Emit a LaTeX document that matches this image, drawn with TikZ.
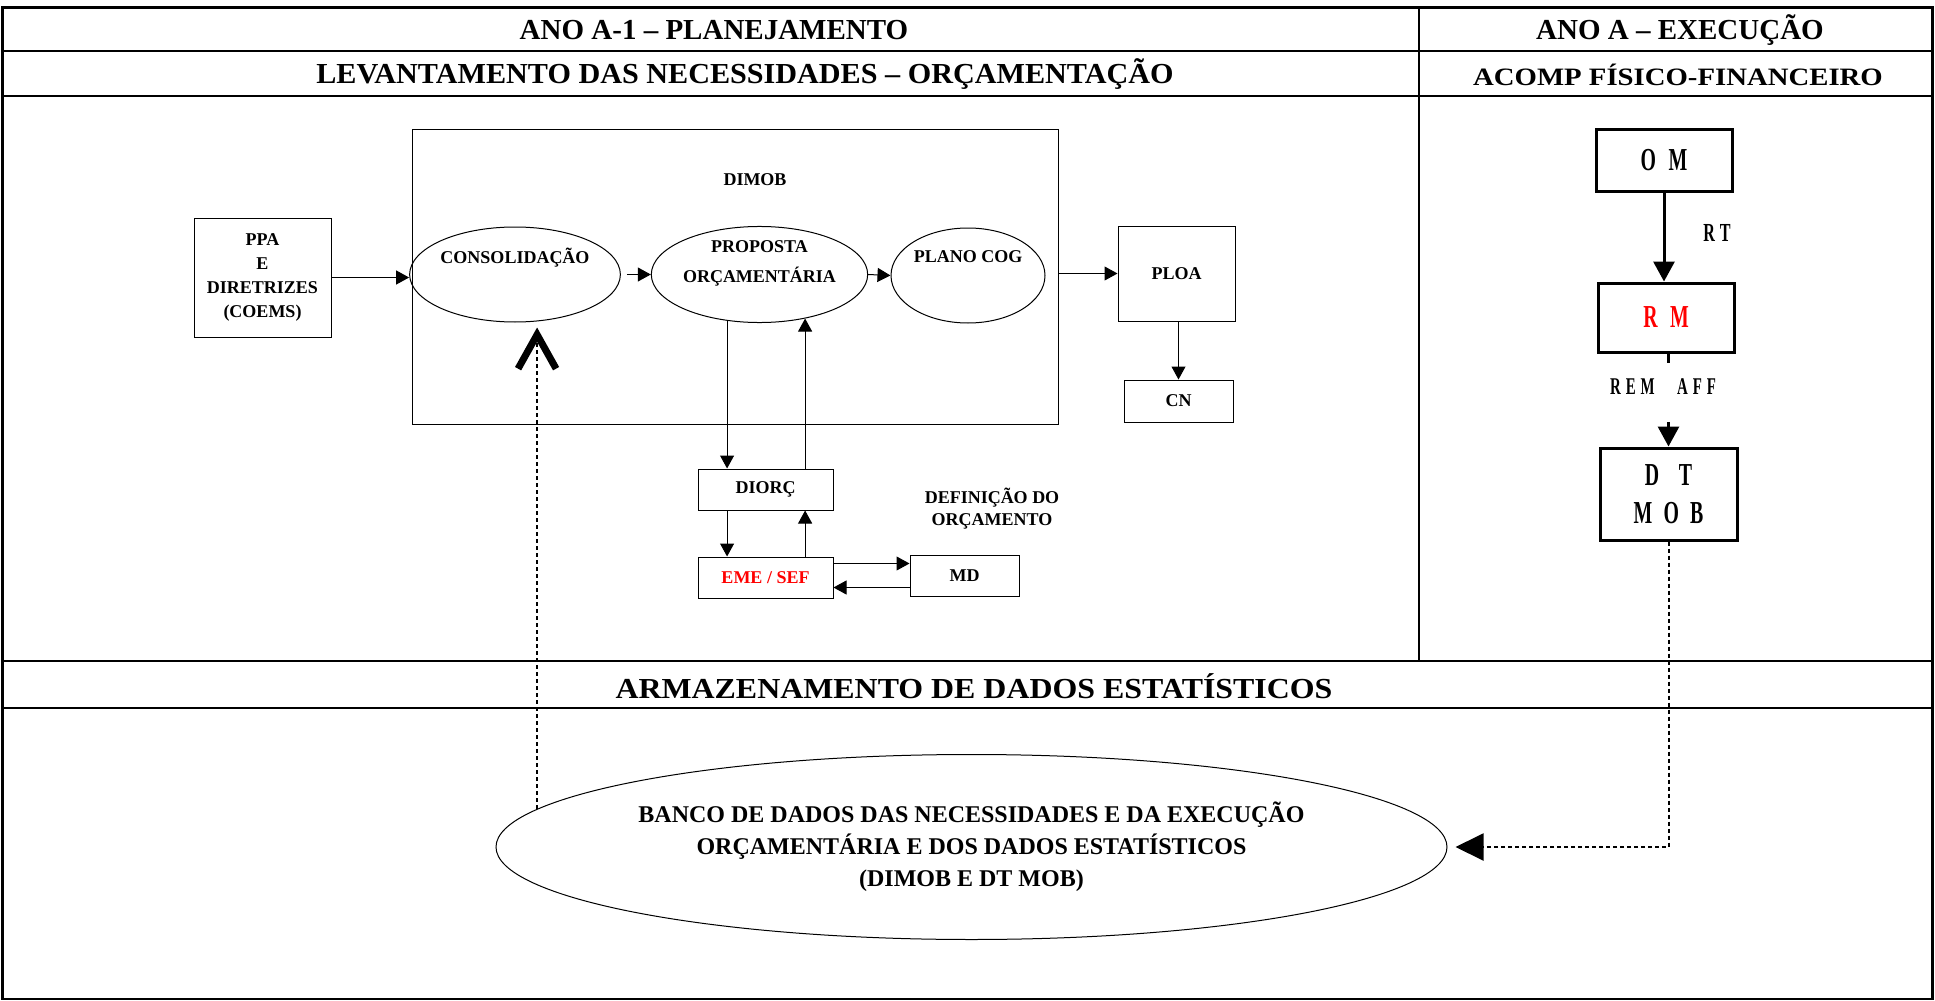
\documentclass[tikz,border=0pt]{standalone}
\usepackage{fontspec}
\setmainfont{Liberation Serif}
\usetikzlibrary{arrows.meta, shapes.geometric, positioning}
\newcommand{\cond}[1]{\scalebox{0.62}[1]{#1}}

\begin{document}
\begin{tikzpicture}[x=0.5pt, y=-0.5pt,
    box/.style={draw, line width=0.5pt, inner sep=0pt, align=center,
        font=\fontsize{9}{11.5}\selectfont\bfseries},
    oval/.style={ellipse, draw, line width=0.5pt, inner sep=0pt, align=center,
        font=\fontsize{9}{15}\selectfont\bfseries},
    link/.style={line width=0.5pt, -{Triangle[length=6.5pt,width=7pt]}},
    headtext/.style={font=\fontsize{14.5}{17}\selectfont\bfseries},
    rbox/.style={draw, line width=1.5pt, inner sep=0pt, align=center,
        font=\fontsize{16}{19}\selectfont\bfseries},
    rlink/.style={line width=1.5pt, -{Triangle[length=10pt,width=10.5pt]}},
    rlabel/.style={font=\fontsize{12}{14}\selectfont\bfseries},
    dashlink/.style={line width=1pt, dash pattern=on 2pt off 1.5pt}]

    \useasboundingbox (0,0) rectangle (1935,1001);

    % Table frame
    \draw[line width=1.2pt] (2.5,7.5) rectangle (1932.5,999);
    \draw[line width=1.2pt] (2.5,51) -- (1932.5,51);
    \draw[line width=1.2pt] (2.5,96) -- (1932.5,96);
    \draw[line width=1pt] (2.5,661) -- (1932.5,661);
    \draw[line width=1pt] (2.5,708) -- (1932.5,708);
    \draw[line width=0.6pt] (1419,7.5) -- (1419,661);

    % Headers
    \node[headtext] (plan) at (714,30) {ANO A-1 -- PLANEJAMENTO};
    \node[headtext] (exec) at (1680,30) {ANO A -- EXECUÇÃO};
    \node[headtext] (lev) at (745,74.5) {\scalebox{1.04}[1]{LEVANTAMENTO DAS NECESSIDADES -- ORÇAMENTAÇÃO}};
    \node[headtext, font=\fontsize{12.5}{15}\selectfont\bfseries] (acomp) at (1678,74.5) {\scalebox{1.15}[1]{ACOMP FÍSICO-FINANCEIRO}};
    \node[headtext] (arm) at (974,686) {\scalebox{1.1}[1]{ARMAZENAMENTO DE DADOS ESTATÍSTICOS}};

    % Planning flow
    \node[box, minimum width=323pt, minimum height=147.5pt] (dimobframe) at (735,276.5) {};
    \node[font=\fontsize{9}{11}\selectfont\bfseries] (dimob) at (755,180) {DIMOB};
    \node[box, minimum width=68.5pt, minimum height=59.5pt, font=\fontsize{9}{12}\selectfont\bfseries] (ppa) at (262.5,277.5) {PPA\\E\\DIRETRIZES\\(COEMS)};
    \node[oval, minimum width=97pt, minimum height=47.5pt] (consol) at (515,274.5) {CONSOLIDAÇÃO\\[4pt]};
    \node[oval, minimum width=101.5pt, minimum height=47.5pt] (proposta) at (759.5,274.5) {PROPOSTA\\ORÇAMENTÁRIA\\[-2pt]};
    \node[oval, minimum width=77pt, minimum height=47.5pt] (plano) at (968,275.5) {PLANO COG\\[4pt]};
    \node[box, minimum width=58.5pt, minimum height=47.5pt] (ploa) at (1176.5,273.5) {PLOA};
    \node[box, minimum width=54.5pt, minimum height=21pt] (cn) at (1178.5,401) {CN};
    \node[box, minimum width=67.5pt, minimum height=20.5pt] (diorc) at (765.5,489.5) {DIORÇ};
    \node[box, minimum width=67.5pt, minimum height=20.5pt, text=red] (eme) at (765.5,577.5) {EME / SEF};
    \node[box, minimum width=54.5pt, minimum height=20.5pt] (md) at (964.5,575.5) {MD};
    \node[font=\fontsize{9}{11}\selectfont\bfseries, align=center] (defin) at (992,509) {DEFINIÇÃO DO\\ORÇAMENTO};

    \draw[link] (ppa.east) -- (ppa.east -| consol.west);
    \draw[link, shorten <=3pt] (consol.east) -- (proposta.west);
    \draw[link] (proposta.east) -- (plano.west);
    \draw[link] (ploa.west -| dimobframe.east) -- (ploa.west);
    \draw[link] (cn.north |- ploa.south) -- (cn.north);
    \draw[link] (proposta.235) -- (proposta.235 |- diorc.north);
    \draw[link] (proposta.316 |- diorc.north) -- (proposta.316);
    \draw[link] (proposta.235 |- diorc.south) -- (proposta.235 |- eme.north);
    \draw[link] (proposta.316 |- eme.north) -- (proposta.316 |- diorc.south);
    \draw[link] ([yshift=7pt]eme.east) -- ([yshift=7pt]eme.east -| md.west);
    \draw[link] ([yshift=-6pt]md.west) -- ([yshift=-6pt]md.west -| eme.east);

    % Execution column
    \node[rbox, minimum width=68pt, minimum height=31pt] (om) at (1664,160) {\cond{O\hspace{10pt}M}};
    \node[rbox, minimum width=68pt, minimum height=34.5pt, text=red] (rm) at (1666,317.5) {\cond{R\hspace{10pt}M}};
    \node[rbox, minimum width=68.5pt, minimum height=46pt] (dtmob) at (1668.5,494) {\cond{D\hspace{16pt}T}\\\cond{M\hspace{9pt}O\hspace{9pt}B}};
    \node[rlabel, font=\fontsize{13}{15}\selectfont\bfseries] (rt) at (1717,233) {\cond{R\hspace{4pt}T}};
    \node[rlabel] (remaff) at (1663,387) {\cond{R\hspace{4pt}E\hspace{4pt}M\hspace{18pt}A\hspace{4pt}F\hspace{4pt}F}};

    \draw[rlink] (om.south) -- (om.south |- rm.north);
    \draw[line width=1.5pt, shorten >=4.5pt] (dtmob.north |- rm.south) -- (dtmob.north |- remaff.north);
    \draw[rlink, shorten <=10pt] (dtmob.north |- remaff.south) -- (dtmob.north);

    % Statistics store
    \node[oval, minimum width=475.5pt, minimum height=92.5pt, font=\fontsize{12}{16}\selectfont\bfseries] (store) at (971.5,847)
        {BANCO DE DADOS DAS NECESSIDADES E DA EXECUÇÃO\\ORÇAMENTÁRIA E DOS DADOS ESTATÍSTICOS\\(DIMOB E DT MOB)};

    \draw[dashlink, -{Straight Barb[length=17pt,width=19pt,line width=3.5pt]}, shorten >=2.5pt]
        (store.175.4) -- (store.175.4 |- consol.south);
    \draw[dashlink, -{Triangle[length=14pt,width=13.5pt]}, shorten >=4pt]
        (dtmob.south) |- (store.east);
\end{tikzpicture}
\end{document}
